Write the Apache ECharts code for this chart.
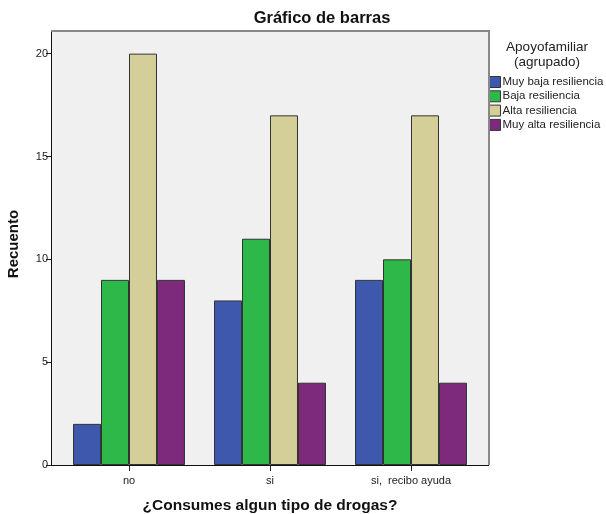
<!DOCTYPE html>
<html>
<head>
<meta charset="utf-8">
<script src="https://cdn.jsdelivr.net/npm/echarts@6/dist/echarts.min.js"></script>
<style>
html,body{margin:0;padding:0;background:#fff;}
#chart{width:606px;height:514px;}
</style>
</head>
<body>
<div id="chart"></div>
<script>
var categories = ['no', 'si', 'si,  recibo ayuda'];
var seriesNames = ['Muy baja resiliencia', 'Baja resiliencia', 'Alta resiliencia', 'Muy alta resiliencia'];
var muyBaja = [2, 8, 9];
var baja = [9, 11, 10];
var alta = [20, 17, 17];
var muyAlta = [9, 4, 4];
var yTicks = [0, 5, 10, 15, 20];
var colors = ['#3d58ad', '#2fb84a', '#d4cf98', '#7d2a7c'];

var values = [muyBaja, baja, alta, muyAlta];
var FONT = 'Liberation Sans, Arial, sans-serif';

var chart = echarts.init(document.getElementById('chart'));
var series = seriesNames.map(function (n, i) {
  return {
    name: n, type: 'bar', data: values[i],
    barGap: '0%', barCategoryGap: '20.6%',
    itemStyle: { color: colors[i], borderColor: '#333', borderWidth: 1 },
    emphasis: { disabled: true }
  };
});

chart.setOption({
  animation: false,
  backgroundColor: '#fff',
  title: {
    text: 'Gráfico de barras', left: 322, top: 10, textAlign: 'center', padding: 0,
    textStyle: { fontFamily: FONT, fontSize: 16.5, fontWeight: 'bold', color: '#111' }
  },
  legend: {
    orient: 'vertical', left: 489, top: 76, padding: 0,
    itemWidth: 11, itemHeight: 11, itemGap: 2.3,
    icon: 'rect',
    textStyle: { fontFamily: FONT, fontSize: 11.5, color: '#222', lineHeight: 11, padding: [0, 0, 0, -3] },
    itemStyle: { borderColor: '#333', borderWidth: 1 },
    data: seriesNames
  },
  grid: { left: 58.5, right: 124.5, top: 31, bottom: 49, containLabel: false, outerBoundsMode: 'none' },
  xAxis: {
    type: 'category', data: categories,
    name: '¿Consumes algun tipo de drogas?', nameLocation: 'middle', nameGap: 33,
    nameTextStyle: { fontFamily: FONT, fontSize: 15.5, fontWeight: 'bold', color: '#111' },
    axisLine: { show: false },
    axisTick: { show: true, alignWithLabel: true, length: 6, lineStyle: { color: '#222' } },
    axisLabel: { fontFamily: FONT, fontSize: 11, color: '#222', margin: 10 }
  },
  yAxis: {
    type: 'value', min: 0, max: 21.1, interval: 5, offset: 7.5,
    axisLine: { show: true, lineStyle: { color: '#111' } },
    axisTick: { show: true, length: 5, lineStyle: { color: '#222' }, customValues: yTicks },
    axisLabel: { fontFamily: FONT, fontSize: 11, color: '#222', margin: 3, customValues: yTicks },
    splitLine: { show: false }
  },
  graphic: [
    { type: 'rect', z: -10, shape: { x: 51, y: 31, width: 438, height: 434 }, style: { fill: '#f0f0f0' } },
    { type: 'polyline', z: 10, shape: { points: [[51, 31], [489, 31], [489, 465]] }, style: { stroke: '#888', lineWidth: 2, fill: null } },
    { type: 'line', z: 10, shape: { x1: 51, y1: 465.5, x2: 489, y2: 465.5 }, style: { stroke: '#111', lineWidth: 1 } },
    { type: 'text', z: 10, x: 547, y: 40, style: { text: 'Apoyofamiliar\n(agrupado)', textAlign: 'center', textVerticalAlign: 'top', font: '13.5px ' + FONT, fill: '#222', lineHeight: 15 } },
    { type: 'text', z: 10, x: 14, y: 244, rotation: Math.PI / 2, style: { text: 'Recuento', textAlign: 'center', textVerticalAlign: 'middle', font: 'bold 15px ' + FONT, fill: '#111' } }
  ],
  series: series
});
</script>
</body>
</html>
